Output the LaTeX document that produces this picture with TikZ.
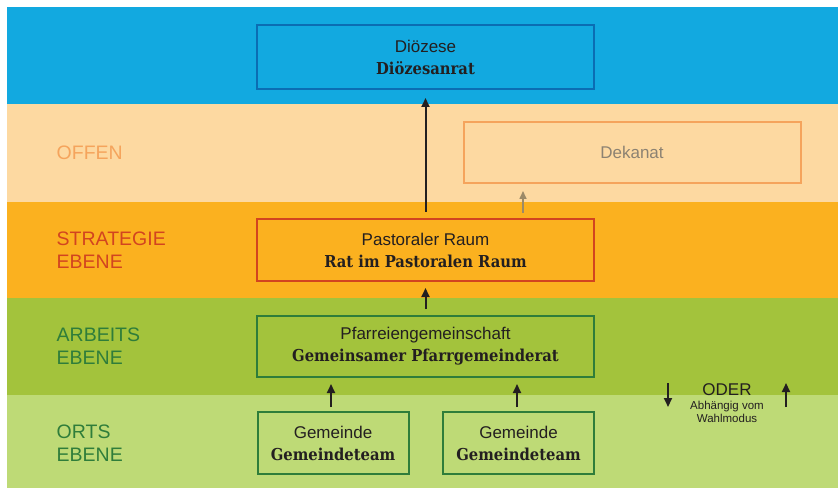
\documentclass[tikz,border=0pt]{standalone}
\usepackage{fontspec}
\setmainfont{Liberation Sans}
\newfontfamily\slab{DejaVu Serif Condensed}
\usetikzlibrary{arrows.meta}
\definecolor{bandblue}{HTML}{12A9E0}
\definecolor{bandpeach}{HTML}{FDD9A1}
\definecolor{bandorange}{HTML}{FBB11F}
\definecolor{banddgreen}{HTML}{A3C33C}
\definecolor{bandlgreen}{HTML}{BEDA76}
\definecolor{edgeblue}{HTML}{0B6DB3}
\definecolor{edgepeach}{HTML}{F5A45C}
\definecolor{edgered}{HTML}{D2441F}
\definecolor{edgegreen}{HTML}{2F7D3A}
\definecolor{txtdark}{HTML}{231F20}
\definecolor{txtgray}{HTML}{8C8272}
\definecolor{arrbrown}{HTML}{9C8A68}
\newcommand{\slabb}[1]{{\slab\bfseries\fontsize{16.4}{22}\selectfont #1}}
\begin{document}
\begin{tikzpicture}[x=1pt,y=-1pt,
  box/.style={draw, line width=2pt, align=center, text=txtdark, inner sep=0pt,
    font=\fontsize{17}{22}\selectfont},
  wide/.style={minimum width=337pt, minimum height=62pt},
  small/.style={minimum width=151pt, minimum height=62pt},
  lvl/.style={anchor=west, align=left, inner sep=0pt, font=\fontsize{19.5}{23}\selectfont},
  conn/.style={line width=2pt, draw=txtdark, -{Triangle[length=9pt,width=8pt]}}]
\useasboundingbox (0,0) rectangle (838,489);
\fill[white] (0,0) rectangle (838,489);
\fill[bandblue] (7,7) rectangle (838,104);
\fill[bandpeach] (7,104) rectangle (838,202);
\fill[bandorange] (7,202) rectangle (838,298);
\fill[banddgreen] (7,298) rectangle (838,395);
\fill[bandlgreen] (7,395) rectangle (838,488);

% level labels
\node[lvl, text=edgepeach] (loffen) at (56.5,153) {OFFEN};
\node[lvl, text=edgered] (lstrat) at (56.5,250.5) {STRATEGIE\\EBENE};
\node[lvl, text=edgegreen] (larb) at (56.5,346.5) {ARBEITS\\EBENE};
\node[lvl, text=edgegreen] (lorts) at (56.5,443.5) {ORTS\\EBENE};

% boxes
\node[box, wide, draw=edgeblue, minimum height=64pt] (dioz) at (425.5,57)
  {Diözese\\\slabb{Diözesanrat}};
\node[box, wide, draw=edgepeach, text=txtgray, minimum height=61pt] (dek) at (632,152.5)
  {Dekanat};
\node[box, wide, draw=edgered] (past) at (425.5,250)
  {Pastoraler Raum\\\slabb{Rat im Pastoralen Raum}};
\node[box, wide, draw=edgegreen, minimum height=61pt] (pfarr) at (425.5,346.5)
  {Pfarreiengemeinschaft\\\slabb{Gemeinsamer Pfarrgemeinderat}};
\node[box, small, draw=edgegreen] (gem1) at (333,443)
  {Gemeinde\\\slabb{Gemeindeteam}};
\node[box, small, draw=edgegreen] (gem2) at (518.5,443)
  {Gemeinde\\\slabb{Gemeindeteam}};

% connectors
\draw[conn, shorten <=6pt, shorten >=8pt] (past.north) -- (dioz.south);
\coordinate (dk) at (523,213);
\draw[line width=1.6pt, draw=arrbrown, -{Triangle[length=8pt,width=7pt]}, shorten >=7pt] (dk) -- (dk |- dek.south);
\draw[conn, shorten <=6pt, shorten >=6pt] (pfarr.north) -- (past.south);
\coordinate (g1) at (331,412);
\coordinate (g2) at (517,412);
\draw[conn, shorten <=5pt, shorten >=6pt] (g1) -- (g1 |- pfarr.south);
\draw[conn, shorten <=5pt, shorten >=6pt] (g2) -- (g2 |- pfarr.south);

% ODER
\node[text=txtdark, font=\fontsize{17}{18}\selectfont] (oder) at (727,389.5) {ODER};
\node[text=txtdark, align=center, font=\fontsize{11.5}{13}\selectfont] (wahl) at (727,411.5) {Abhängig vom\\Wahlmodus};
\coordinate (od1) at (668,383);
\coordinate (od2) at (668,407);
\coordinate (ou1) at (786,407);
\coordinate (ou2) at (786,383);
\draw[conn] (od1) -- (od2);
\draw[conn] (ou1) -- (ou2);
\end{tikzpicture}
\end{document}
